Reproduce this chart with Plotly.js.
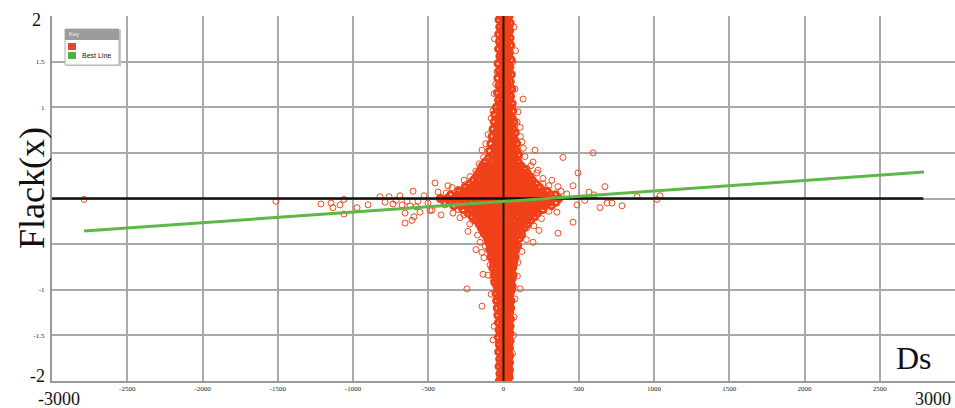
<!DOCTYPE html>
<html><head><meta charset="utf-8">
<script src="https://cdn.plot.ly/plotly-3.0.1.min.js"></script>
<style>html,body{margin:0;padding:0;background:#fff;}#chart{width:955px;height:408px;}</style>
</head><body><div id="chart"></div>
<script>
// ---- data ----
// rows: [y, x1, x2, ...]  (dense vertical column and central cluster)
const colTopRows = [
 [2.00,-18,12,38],[1.96,-30,3,27],[1.92,-8,22,45],[1.88,-25,8,33],[1.84,-14,18,41],
 [1.80,-32,-2,26],[1.76,-10,15,44],[1.72,-27,6,31],[1.68,-16,21,48],[1.64,-33,-4,24],
 [1.60,-9,13,39],[1.56,-24,7,35],[1.52,-15,19,50],[1.48,-36,0,28],[1.44,-11,16,42],
 [1.40,-28,5,33],[1.36,-17,23,52],[1.32,-38,-3,29],[1.28,-12,14,45],[1.24,-30,6,36],
 [1.20,-19,24,55],[1.16,-40,-6,30],[1.12,-14,11,47],[1.08,-33,3,38],[1.04,-22,20,58]
];
const midUpperRows = [
 [1.00,-48,-15,14,44],[0.96,-30,0,30,62],[0.92,-58,-22,8,40],[0.88,-38,-5,25,58],
 [0.84,-62,-26,4,36,70],[0.80,-44,-12,18,50],[0.76,-70,-32,0,30,66],[0.72,-50,-18,12,44,78],
 [0.68,-76,-38,-6,26,58],[0.64,-56,-22,8,40,74],[0.60,-84,-44,-10,22,54,88],
 [0.56,-62,-28,4,36,70],[0.52,-92,-50,-16,18,50,86],[0.48,-70,-34,0,32,66,100],
 [0.44,-100,-56,-20,14,46,80]
];
const coreUpperRows = [
 [0.40,-122,-84,-46,-10,26,62,98],
 [0.36,-140,-100,-64,-28,8,44,80,116],
 [0.32,-150,-112,-74,-38,-2,34,70,108,140],
 [0.28,-166,-128,-90,-54,-18,18,54,92,128,158],
 [0.24,-180,-140,-102,-66,-30,6,42,78,116,152,176],
 [0.20,-200,-160,-122,-84,-48,-12,24,60,98,134,170,192],
 [0.16,-226,-186,-146,-108,-70,-34,2,38,74,112,150,186,216],
 [0.12,-256,-214,-174,-134,-96,-58,-22,14,50,88,126,164,202,240],
 [0.08,-298,-254,-212,-170,-130,-92,-54,-16,22,60,98,138,178,218,258,290],
 [0.04,-352,-306,-262,-220,-178,-138,-98,-58,-18,22,62,102,144,186,228,270,312,346]
];
const coreMidRows = [
 [0.00,-420,-372,-326,-280,-236,-192,-148,-106,-64,-22,20,62,104,148,192,236,280,324,368],
 [-0.04,-390,-342,-296,-250,-206,-162,-120,-78,-36,6,48,90,134,178,222,266,310,350]
];
const coreLowerRows = [
 [-0.08,-330,-284,-240,-196,-154,-112,-70,-28,14,56,98,142,186,230,272,318],
 [-0.12,-270,-228,-186,-146,-106,-66,-26,14,54,94,136,178,220,262],
 [-0.16,-236,-196,-156,-118,-80,-42,-4,34,72,112,150,190,226],
 [-0.20,-208,-168,-130,-92,-54,-18,20,56,94,132,170,204],
 [-0.24,-180,-142,-104,-68,-32,4,40,76,112,150,182],
 [-0.28,-162,-124,-88,-52,-16,20,56,92,128,160],
 [-0.32,-148,-110,-74,-38,-2,34,70,106,138],
 [-0.36,-134,-96,-60,-24,12,48,84,118],
 [-0.40,-120,-84,-48,-12,24,60,96,120],
 [-0.44,-106,-70,-34,2,38,74,104]
];
const midLowerRows = [
 [-0.48,-100,-64,-28,8,44,80],[-0.52,-86,-50,-14,22,58,94],[-0.56,-92,-56,-20,16,52,82],
 [-0.60,-78,-42,-6,30,66],[-0.64,-84,-48,-12,24,60,78],[-0.68,-70,-34,2,38,70],
 [-0.72,-64,-28,8,44,66],[-0.76,-72,-36,0,36,62],[-0.80,-56,-20,16,50],
 [-0.84,-62,-26,10,46,64],[-0.88,-50,-14,22,56],[-0.92,-58,-22,14,48],[-0.96,-44,-8,28,58]
];
const colBottomRows = [
 [-1.00,-38,-4,30,54],[-1.04,-50,-16,18,44],[-1.08,-30,4,38],[-1.12,-46,-12,22,50],
 [-1.16,-26,8,40],[-1.20,-42,-8,26,48],[-1.24,-22,12,42],[-1.28,-38,-4,30],
 [-1.32,-18,16,46],[-1.36,-34,0,34],[-1.40,-14,20,44],[-1.44,-30,4,36],
 [-1.48,-20,14,42],[-1.52,-34,-2,30],[-1.56,-12,22,44],[-1.60,-28,6,36],
 [-1.64,-18,16,40],[-1.68,-32,0,30],[-1.72,-10,22,42],[-1.76,-26,8,34],
 [-1.80,-16,18,40],[-1.84,-30,2,30],[-1.88,-12,20,40],[-1.92,-24,6,34],
 [-1.96,-16,16,38],[-2.00,-28,0,28]
];
// scattered outliers
const outX = [-2787,-1512,-1213,-1146,-1133,-1086,-1060,-1060,-973,-900,-821,-787,-761,-734,-714,-688,-674,-654,-654,-641,-621,-608,-601,-595,-581,-568,-555,-528,-502,-455,-475,-435,-415,-389,-369,-488,-336,-289,-203,-342,-256,-203,
 395,595,495,674,568,488,462,355,641,688,721,787,887,1020,1040,196,362,322,462,362,262,209,156,110,236,420,540,600,
 -43,37,130,56,-70,90,110,-50,123,-143,209,196,156,229,-90,-110,80,-60,70,
 -236,-156,-183,-143,-130,-90,-136,-103,-70,-43,-243,110,-143,96,-23,70,-70,60,
 -300,-380,-262,-222,-184,-162,-132,-118,-102,-82,-62,-52,
 262,302,382,222,182,142,132,112,96,76,62,
 -302,-262,-224,-172,-122,302,252,202,152,122,92,-82,76,-62,66];
const outY = [-0.01,-0.03,-0.06,-0.05,-0.10,-0.07,-0.17,-0.01,-0.10,-0.07,0.02,-0.04,0.02,-0.06,-0.02,0.03,-0.07,-0.16,-0.27,-0.03,-0.08,-0.24,0.08,-0.20,-0.09,-0.03,-0.15,0.03,-0.05,0.17,-0.13,0.07,-0.18,-0.07,0.14,-0.13,-0.16,-0.21,-0.24,0.12,0.15,0.12,
 0.45,0.50,0.28,0.13,0.07,-0.07,-0.26,-0.15,-0.10,-0.05,-0.05,-0.08,0.02,-0.01,0.03,-0.48,-0.38,0.20,0.14,0.13,0.16,-0.21,-0.32,-0.38,-0.35,0.05,-0.02,0.04,
 1.39,1.37,1.09,1.05,0.96,0.84,0.78,0.79,0.62,0.53,0.53,0.40,0.33,0.31,0.42,0.31,1.62,1.75,1.88,
 -0.36,-0.48,-0.56,-0.59,-0.65,-0.73,-0.83,-0.84,-0.88,-0.81,-0.99,-0.99,-1.18,-0.70,-1.22,-1.30,-1.55,-1.70,
 0.10,0.06,0.20,0.24,0.30,0.38,0.45,0.60,0.70,0.88,1.15,1.25,
 0.22,0.14,0.08,0.28,0.36,0.46,0.55,0.68,0.95,1.20,1.50,
 -0.12,-0.18,-0.28,-0.40,-0.52,-0.14,-0.22,-0.30,-0.45,-0.58,-0.85,-1.05,-1.10,-1.40,-1.50];
// best-fit line end points
const bestX = [-2787, 2794];
const bestY = [-0.356, 0.29];
// reference (black) lines
const hLineX = [-3000, 2790], hLineY = [0, 0];
const vLineX = [0, 0], vLineY = [-2, 2];
// tick labels
const xTickVals = [-2500,-2000,-1500,-1000,-500,0,500,1000,1500,2000,2500,3000];
const xTickText = ['-2500','-2000','-1500','-1000','-500','0','500','1000','1500','2000','2500','3000'];
const yTickVals = [-2,-1.5,-1,-0.5,0,0.5,1,1.5,2];
const yTickText = ['','-1.5','-1','','','','1','1.5',''];

// ---- build ----
const cx = [], cy = [];
[colTopRows, midUpperRows, coreUpperRows, coreMidRows, coreLowerRows, midLowerRows, colBottomRows].forEach(rows => {
  rows.forEach(r => { for (let i = 1; i < r.length; i++) { cx.push(r[i]); cy.push(r[0]); } });
});

const RED = '#ef4a1f';
const traces = [
  {x: cx, y: cy, type: 'scatter', mode: 'markers', name: 'cluster',
   marker: {symbol: 'circle-open', size: 6, color: '#f0401a', line: {width: 3, color: '#f0401a'}}, showlegend: false, hoverinfo: 'skip'},
  {x: outX, y: outY, type: 'scatter', mode: 'markers', name: 'outliers',
   marker: {symbol: 'circle-open', size: 6, color: RED, line: {width: 1, color: RED}}, showlegend: false, hoverinfo: 'skip'},
  {x: hLineX, y: hLineY, type: 'scatter', mode: 'lines', line: {color: '#111', width: 2.5}, showlegend: false, hoverinfo: 'skip'},
  {x: vLineX, y: vLineY, type: 'scatter', mode: 'lines', line: {color: '#2a1208', width: 2}, showlegend: false, hoverinfo: 'skip'},
  {x: bestX, y: bestY, type: 'scatter', mode: 'lines', name: 'Best Line', line: {color: '#5db845', width: 3}, showlegend: false, hoverinfo: 'skip'}
];

const L = 52, T = 16, W = 903, H = 365;
const px = v => (v - L) / W, py = v => (T + H - v) / H;
const serif = 'Liberation Serif, Times New Roman, serif';

const layout = {
  width: 955, height: 408,
  margin: {l: L, r: 0, t: T, b: 408 - T - H},
  paper_bgcolor: '#fff', plot_bgcolor: '#fff',
  showlegend: false,
  xaxis: {range: [-3000, 3000], tickvals: xTickVals, ticktext: xTickText, showgrid: true,
    gridcolor: '#a9a9a9', gridwidth: 2, zeroline: false, showline: true, linecolor: '#9a9a9a', linewidth: 2,
    ticks: '', tickfont: {family: serif, size: 7, color: '#222'}, fixedrange: true},
  yaxis: {range: [-2, 2], tickvals: yTickVals, ticktext: yTickText, showgrid: true,
    gridcolor: '#a9a9a9', gridwidth: 2, zeroline: false, showline: true, linecolor: '#9a9a9a', linewidth: 2,
    ticks: '', tickfont: {family: serif, size: 7, color: '#222'}, ticklabelstandoff: 4, fixedrange: true},
  shapes: [
    {type: 'rect', xref: 'paper', yref: 'paper', x0: px(66), x1: px(121), y0: py(66), y1: py(30), fillcolor: '#c8c8c8', line: {width: 0}},
    {type: 'rect', xref: 'paper', yref: 'paper', x0: px(65), x1: px(119), y0: py(65), y1: py(29), fillcolor: '#ffffff', line: {color: '#b0b0b0', width: 1}},
    {type: 'rect', xref: 'paper', yref: 'paper', x0: px(65), x1: px(119), y0: py(40), y1: py(29), fillcolor: '#9c9c9c', line: {width: 0}},
    {type: 'rect', xref: 'paper', yref: 'paper', x0: px(68), x1: px(76), y0: py(50), y1: py(43), fillcolor: '#e8432c', line: {width: 0}},
    {type: 'rect', xref: 'paper', yref: 'paper', x0: px(68), x1: px(76), y0: py(59), y1: py(52), fillcolor: '#4fb043', line: {width: 0}}
  ],
  annotations: [
    {text: 'Key', xref: 'paper', yref: 'paper', x: px(67), y: py(34.5), xanchor: 'left', yanchor: 'middle', showarrow: false,
     font: {family: 'Liberation Sans, Arial, sans-serif', size: 6, color: '#f4f4f4'}},
    {text: 'Best Line', xref: 'paper', yref: 'paper', x: px(80), y: py(55.5), xanchor: 'left', yanchor: 'middle', showarrow: false,
     font: {family: 'Liberation Sans, Arial, sans-serif', size: 7, color: '#222'}},
    {text: 'Flack(x)', xref: 'paper', yref: 'paper', x: px(32), y: py(188), textangle: -90, xanchor: 'center', yanchor: 'middle', showarrow: false,
     font: {family: serif, size: 36, color: '#111'}},
    {text: 'Ds', xref: 'paper', yref: 'paper', x: px(914), y: py(358), xanchor: 'center', yanchor: 'middle', showarrow: false,
     font: {family: serif, size: 32, color: '#111'}},
    {text: '2', xref: 'paper', yref: 'paper', x: px(36), y: py(20), xanchor: 'center', yanchor: 'middle', showarrow: false,
     font: {family: serif, size: 18, color: '#111'}},
    {text: '-2', xref: 'paper', yref: 'paper', x: px(37), y: py(376), xanchor: 'center', yanchor: 'middle', showarrow: false,
     font: {family: serif, size: 18, color: '#111'}},
    {text: '-3000', xref: 'paper', yref: 'paper', x: px(59), y: py(399), xanchor: 'center', yanchor: 'middle', showarrow: false,
     font: {family: serif, size: 18, color: '#111'}},
    {text: '3000', xref: 'paper', yref: 'paper', x: px(953), y: py(399), xanchor: 'right', yanchor: 'middle', showarrow: false,
     font: {family: serif, size: 18, color: '#111'}}
  ]
};

Plotly.newPlot('chart', traces, layout, {displayModeBar: false, staticPlot: true});
</script>
</body></html>
